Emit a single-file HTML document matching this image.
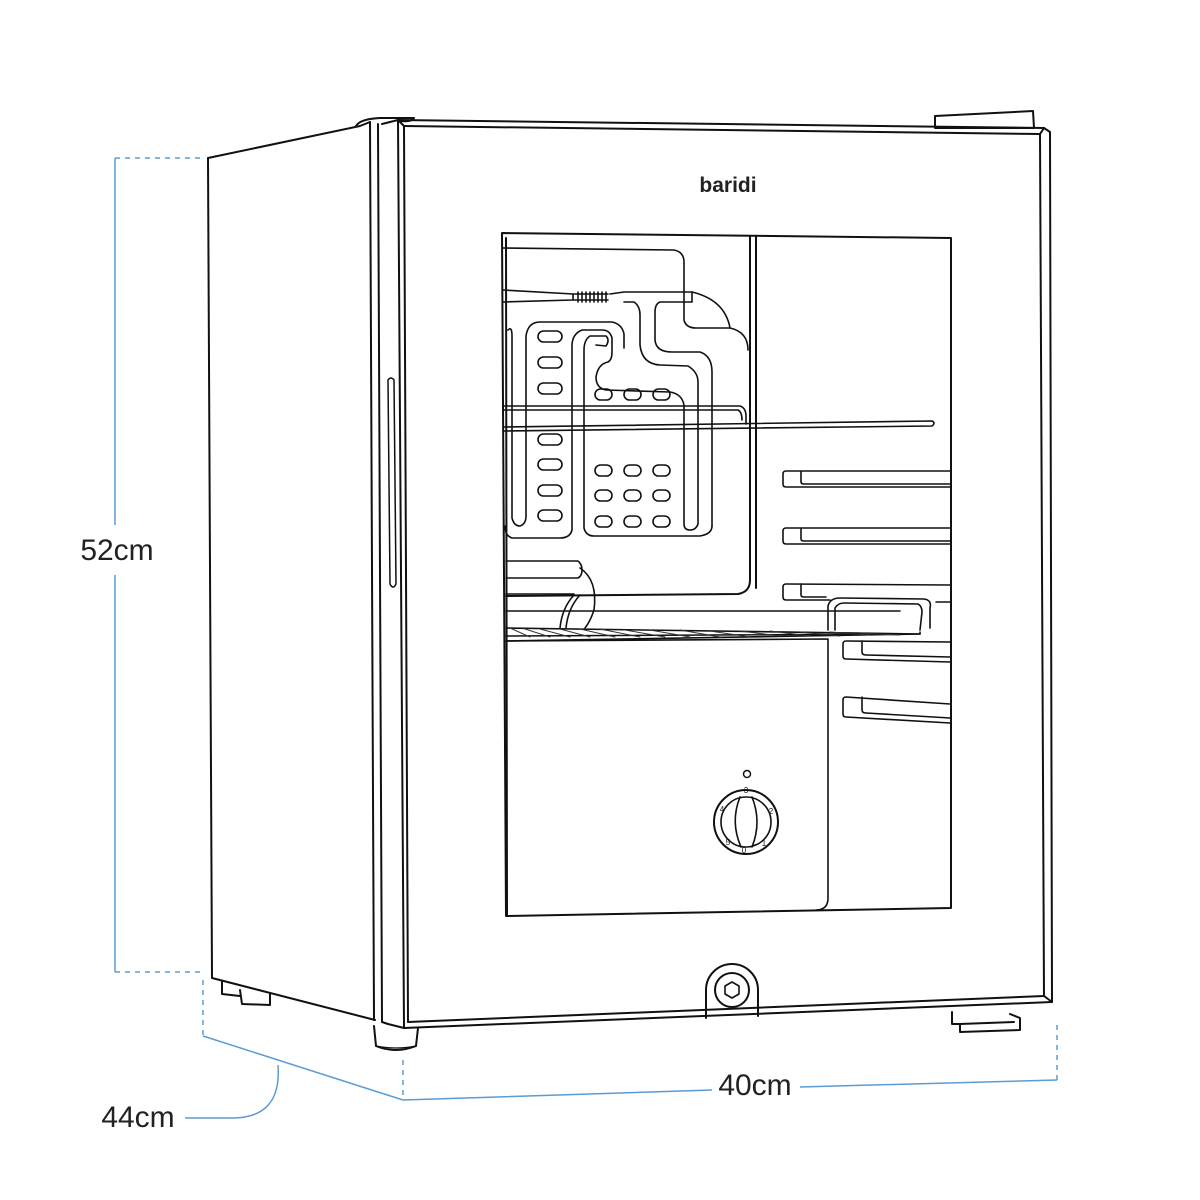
<!DOCTYPE html>
<html><head><meta charset="utf-8"><style>
html,body{margin:0;padding:0;background:#fff;width:1200px;height:1200px;overflow:hidden}
svg{display:block}
text{font-family:"Liberation Sans",sans-serif}
</style></head><body>
<svg width="1200" height="1200" viewBox="0 0 1200 1200" xmlns="http://www.w3.org/2000/svg">
<g fill="none" stroke="#111" stroke-width="2" stroke-linejoin="round" stroke-linecap="round">
<!-- side cabinet -->
<path d="M208,158 L360,126 L370,122"/>
<path d="M208,158 L212,978 L375,1020"/>
<path d="M356,126 Q360,119 380,118 L414,118 Q412,122 400,121"/>
<!-- door side strips -->
<path d="M370,122 L374,1020"/>
<path d="M378,124 L382,1022"/>
<path d="M382,124 L398,120 L404,1028 L388,1024 L382,1022"/>
<path d="M398,120 L404,126 L408,1022"/>
<!-- handle -->
<path d="M388,380 Q391,376 394,380 L396,584 Q393,590 390,584 Z" stroke-width="1.5"/>
<!-- door front -->
<path d="M398,120 L1044,128 L1050,132 L1052,1002 L404,1028"/>
<path d="M404,126 L1040,134 L1044,128"/>
<path d="M1040,134 L1044,996 L408,1022"/>
<path d="M1044,996 L1052,1002"/>
<!-- top right hinge -->
<path d="M935,116 L1033,111 L1034,128 L935,128 Z"/>
<!-- window -->
<path d="M502,233 L951,238 L951,908 L506,916 L502,233"/>
<path d="M506,238 L507,916"/>
<!-- evaporator/back pillar -->
<path d="M750,236 L750,580 Q750,592 738,594 L506,596"/>
<path d="M756,236 L756,588"/>
<!-- evaporator piping -->
<g stroke-width="1.6">
<path d="M503,248 L674,250 Q684,252 684,262 L684,320 Q686,328 696,328 L730,328 Q748,332 748,350"/>
<path d="M503,290 L573,294 L573,300 L503,302"/>
<path d="M573,294 L608,294 M573,300 L608,300"/>
<path d="M578,292 L578,302 M582,292 L582,302 M586,292 L586,302 M590,292 L590,302 M594,292 L594,302 M598,292 L598,302 M602,292 L602,302 M606,292 L606,302"/>
<path d="M610,294 L624,292 L692,292 L692,302 L660,302 Q655,304 655,312 L655,340 Q656,352 672,352 L700,352 Q712,356 712,372 L712,526"/>
<path d="M692,292 Q725,300 730,328"/>
<path d="M624,302 L634,302 Q640,306 640,315 L640,345 Q642,364 660,365 L688,366 Q698,372 698,382 L698,524 Q696,530 690,530 Q684,530 684,524 L684,405 Q682,394 670,392 L606,390 Q596,388 596,377 Q598,364 608,362 Q612,360 612,352 L612,338 Q610,330 602,330 L582,330 Q572,334 572,346 L572,530 Q570,538 560,538 L512,538 Q505,536 505,526"/>
<path d="M596,345 L606,346 Q610,340 606,336 L590,336 Q584,340 584,350 L584,528 Q586,536 594,536 L700,536 Q712,534 712,526"/>
<path d="M508,330 Q512,326 512,336 L512,518 Q514,526 520,526 Q526,524 526,516 L526,336 Q528,322 540,322 L612,322 Q622,324 624,334 L624,348"/>
</g>
<g stroke-width="1.6">
<rect x="538" y="331" width="24" height="11" rx="5.5"/>
<rect x="538" y="357" width="24" height="11" rx="5.5"/>
<rect x="538" y="383" width="24" height="11" rx="5.5"/>
<rect x="538" y="434" width="24" height="11" rx="5.5"/>
<rect x="538" y="459" width="24" height="11" rx="5.5"/>
<rect x="538" y="485" width="24" height="11" rx="5.5"/>
<rect x="538" y="510" width="24" height="11" rx="5.5"/>
<rect x="595" y="389" width="17" height="11" rx="5.5"/>
<rect x="624" y="389" width="17" height="11" rx="5.5"/>
<rect x="653" y="389" width="17" height="11" rx="5.5"/>
<rect x="595" y="465" width="17" height="11" rx="5.5"/>
<rect x="624" y="465" width="17" height="11" rx="5.5"/>
<rect x="653" y="465" width="17" height="11" rx="5.5"/>
<rect x="595" y="490" width="17" height="11" rx="5.5"/>
<rect x="624" y="490" width="17" height="11" rx="5.5"/>
<rect x="653" y="490" width="17" height="11" rx="5.5"/>
<rect x="595" y="516" width="17" height="11" rx="5.5"/>
<rect x="624" y="516" width="17" height="11" rx="5.5"/>
<rect x="653" y="516" width="17" height="11" rx="5.5"/>
</g>
<!-- upper shelf -->
<path d="M503,406 L740,406 Q746,408 746,416 L746,424" stroke-width="1.6"/>
<path d="M503,410 L738,410 Q742,412 742,420" stroke-width="1.6"/>
<path d="M503,427 L932,421 Q936,423 932,426 L503,431" stroke-width="1.6"/>
<!-- drip tray lower-left -->
<g stroke-width="1.6">
<path d="M506,561 L578,561 Q582,564 582,570 Q582,576 578,578 L506,578"/>
<path d="M580,568 Q598,580 594,610 Q590,622 585,628"/>
<path d="M574,595 Q562,608 560,628 M580,595 Q568,608 566,628"/>
<path d="M506,594 L574,594 M506,611 L900,611"/>
</g>
<!-- wire shelf -->
<path d="M506,628 L920,634 L920,632 M506,636 L915,634" stroke-width="1.6"/>
<path d="M506,641 L920,634" stroke-width="1.6"/>
<g stroke-width="1" stroke="#333">
<path d="M510,628 L530,637 M525,629 L550,637 M540,629 L570,637 M560,629 L590,637 M580,629 L615,637 M600,629 L640,637 M625,630 L665,637 M650,630 L690,637 M680,630 L720,637 M710,631 L750,637 M740,631 L780,636 M770,631 L810,636 M800,632 L840,636 M830,632 L870,635 M860,633 L900,635"/>
</g>
<!-- lower box -->
<path d="M506,641 L828,639 L828,898 Q828,910 816,910" stroke-width="1.6"/>
<!-- right shelf rails -->
<g stroke-width="1.6">
<path d="M950,471 L786,471 Q783,471 783,474 L783,484 Q783,487 786,487 L950,487 M801,471 L801,482 Q801,484 804,484 L950,484"/>
<path d="M950,528 L786,528 Q783,528 783,531 L783,541 Q783,544 786,544 L950,544 M801,528 L801,539 Q801,541 804,541 L950,541"/>
<path d="M950,585 L786,584 Q783,584 783,587 L783,597 Q783,600 786,600 L830,600 M801,584 L801,595 Q801,597 804,597 L826,597"/>
<path d="M828,630 L828,606 Q830,598 840,598 L924,599 Q932,600 930,608 L930,628 M835,630 L835,608 Q838,603 844,603 L918,604 Q922,606 922,612 L920,630 M936,602 L950,602"/>
<path d="M950,642 L846,641 Q843,641 843,644 L843,656 Q843,659 846,659 L950,662 M862,641 L862,652 Q862,655 866,655 L950,657"/>
<path d="M950,704 L846,697 Q843,697 843,700 L843,714 Q843,717 846,717 L950,723 M862,697 L862,710 Q862,713 866,713 L950,718"/>
</g>
<!-- knob -->
<circle cx="747" cy="774" r="3.5" stroke-width="1.5"/>
<circle cx="746" cy="822" r="32"/>
<circle cx="746" cy="822" r="25" stroke-width="1.6"/>
<path d="M740,797 Q730,822 741,847 M752,797 Q762,822 752,847" stroke-width="1.6"/>
<path d="M752,846 L758,844" stroke-width="1.2"/>
<!-- lock -->
<path d="M706,1018 L706,990 A26,26 0 0 1 758,990 L758,1016"/>
<circle cx="732" cy="990" r="17"/>
<path d="M732,982 L739,986 L739,994 L732,998 L725,994 L725,986 Z" stroke-width="1.6"/>
<!-- feet -->
<path d="M374,1026 L376,1046 Q396,1054 416,1046 L418,1028" />
<path d="M376,1046 Q396,1050 416,1046" stroke-width="1.2"/>
<path d="M222,982 L222,994 L240,996 M240,990 L242,1004 L270,1005 L270,993"/>
<path d="M952,1012 L952,1024 L960,1024 L960,1032 L1020,1030 L1020,1018 L1010,1014 M960,1024 L1014,1022"/>
</g>
<g font-size="8" fill="#111" text-anchor="middle">
<text x="746" y="793">3</text><text x="722" y="812">4</text><text x="771" y="814">2</text>
<text x="728" y="845">5</text><text x="744" y="853">0</text><text x="764" y="846">1</text>
</g>
<text x="728" y="192" font-size="21" font-weight="bold" text-anchor="middle" fill="#222">baridi</text>
<!-- dimensions -->
<g fill="none" stroke="#5b9bd5" stroke-width="1.5">
<path d="M115,158 L115,525 M115,575 L115,972"/>
<path d="M115,158 L205,158 M115,972 L205,972" stroke-dasharray="5,5"/>
<path d="M203,980 L203,1035 M403,1060 L403,1100 M1057,1025 L1057,1080" stroke-dasharray="5,5"/>
<path d="M203,1036 L403,1100 L712,1090 M800,1087 L1057,1080"/>
<path d="M278,1065 Q282,1118 232,1118 L185,1118"/>
</g>
<g font-size="30" fill="#222">
<text x="117" y="560" text-anchor="middle">52cm</text>
<text x="755" y="1095" text-anchor="middle">40cm</text>
<text x="138" y="1127" text-anchor="middle">44cm</text>
</g>
</svg>
</body></html>
